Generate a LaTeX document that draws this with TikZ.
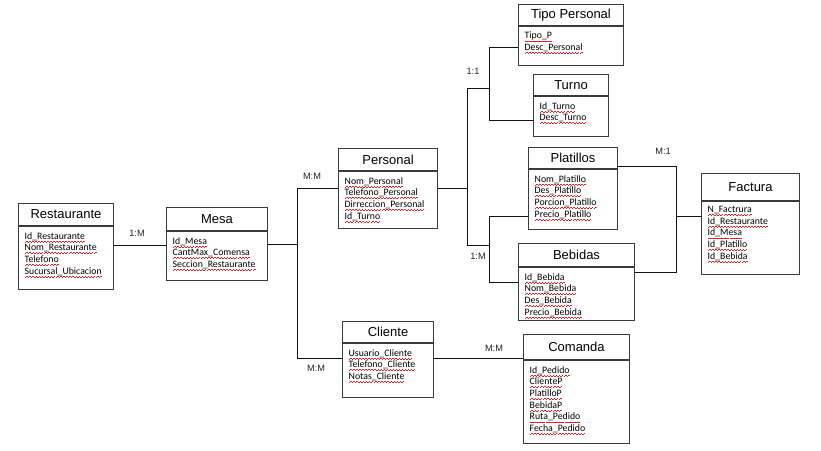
\documentclass[tikz,border=0pt]{standalone}
\usepackage{fontspec}
\setmainfont{Liberation Sans}
\newfontfamily\fieldfont{Carlito}
\usepackage{xcolor}
\definecolor{cEdge}{HTML}{3A3A3A}
\definecolor{cLine}{HTML}{111111}
\definecolor{cCard}{HTML}{222222}
\definecolor{cWave}{HTML}{E02020}
\usetikzlibrary{positioning,calc}
% subrayado ondulado rojo bajo cada campo
\newcommand\fld[1]{\setbox0\hbox{#1}\rlap{\color{cWave}\hbox to\wd0{%
  \xleaders\hbox{\rule[-3.1pt]{1.5pt}{0.6pt}\rule[-2.3pt]{1.5pt}{0.6pt}}\hfill}}\box0}
\tikzset{
  ent-head/.style={draw=cEdge,line width=1pt,anchor=north west,inner sep=0pt,
    font=\fontsize{13}{14}\selectfont},
  ent-body/.style={draw=cEdge,line width=1pt,inner sep=0pt},
  ent-fields/.style={anchor=north west,inner sep=0pt,align=left,
    font=\fieldfont\fontsize{9.8}{11.7}\selectfont},
  link/.style={draw=cLine,line width=0.8pt},
  card/.style={font=\fontsize{9.2}{10}\selectfont,text=cCard,inner sep=0pt},
}

\begin{document}
\begin{tikzpicture}[x=1pt,y=-1pt]
  \useasboundingbox (0,0) rectangle (821,450);
  % entidades
  \node[ent-head,minimum width=95pt,minimum height=22pt] (rest-h) at (18,203) {Restaurante};
  \node[ent-body,minimum width=95pt,minimum height=63pt,below=0pt of rest-h] (rest-b) {};
  \node[ent-fields] (rest-f) at ($(rest-b.north west)+(6.5,6)$)
    {\fld{Id\_Restaurante}\\\fld{Nom\_Restaurante}\\\fld{Telefono}\\\fld{Sucursal\_Ubicacion}};

  \node[ent-head,minimum width=101pt,minimum height=23pt] (mesa-h) at (166,207) {Mesa};
  \node[ent-body,minimum width=101pt,minimum height=49pt,below=0pt of mesa-h] (mesa-b) {};
  \node[ent-fields] (mesa-f) at ($(mesa-b.north west)+(6.5,6)$)
    {\fld{Id\_Mesa}\\\fld{CantMax\_Comensa}\\\fld{Seccion\_Restaurante}};

  \node[ent-head,minimum width=99pt,minimum height=22pt] (pers-h) at (338,148) {Personal};
  \node[ent-body,minimum width=99pt,minimum height=57pt,below=0pt of pers-h] (pers-b) {};
  \node[ent-fields] (pers-f) at ($(pers-b.north west)+(6.5,6)$)
    {\fld{Nom\_Personal}\\\fld{Telefono\_Personal}\\\fld{Dirreccion\_Personal}\\\fld{Id\_Turno}};

  \node[ent-head,minimum width=105pt,minimum height=21pt] (tipo-h) at (518,4) {Tipo Personal};
  \node[ent-body,minimum width=105pt,minimum height=39pt,below=0pt of tipo-h] (tipo-b) {};
  \node[ent-fields] (tipo-f) at ($(tipo-b.north west)+(6.5,6)$)
    {\fld{Tipo\_P}\\\fld{Desc\_Personal}};

  \node[ent-head,minimum width=75pt,minimum height=21pt] (turno-h) at (533,74) {Turno};
  \node[ent-body,minimum width=75pt,minimum height=40pt,below=0pt of turno-h] (turno-b) {};
  \node[ent-fields] (turno-f) at ($(turno-b.north west)+(6.5,6)$)
    {\fld{Id\_Turno}\\\fld{Desc\_Turno}};

  \node[ent-head,minimum width=89pt,minimum height=21pt] (plat-h) at (528,147) {Platillos};
  \node[ent-body,minimum width=89pt,minimum height=60pt,below=0pt of plat-h] (plat-b) {};
  \node[ent-fields] (plat-f) at ($(plat-b.north west)+(6.5,6)$)
    {\fld{Nom\_Platillo}\\\fld{Des\_Platillo}\\\fld{Porcion\_Platillo}\\\fld{Precio\_Platillo}};

  \node[ent-head,minimum width=116pt,minimum height=23pt] (beb-h) at (518,243) {Bebidas};
  \node[ent-body,minimum width=116pt,minimum height=53pt,below=0pt of beb-h] (beb-b) {};
  \node[ent-fields] (beb-f) at ($(beb-b.north west)+(6.5,6)$)
    {\fld{Id\_Bebida}\\\fld{Nom\_Bebida}\\\fld{Des\_Bebida}\\\fld{Precio\_Bebida}};

  \node[ent-head,minimum width=98pt,minimum height=27pt] (fact-h) at (701,173) {Factura};
  \node[ent-body,minimum width=98pt,minimum height=73pt,below=0pt of fact-h] (fact-b) {};
  \node[ent-fields] (fact-f) at ($(fact-b.north west)+(6.5,5)$)
    {\fld{N\_Factrura}\\\fld{Id\_Restaurante}\\\fld{Id\_Mesa}\\\fld{Id\_Platillo}\\\fld{Id\_Bebida}};

  \node[ent-head,minimum width=91pt,minimum height=21pt] (cli-h) at (342,321) {Cliente};
  \node[ent-body,minimum width=91pt,minimum height=54pt,below=0pt of cli-h] (cli-b) {};
  \node[ent-fields] (cli-f) at ($(cli-b.north west)+(6.5,6)$)
    {\fld{Usuario\_Cliente}\\\fld{Telefono\_Cliente}\\\fld{Notas\_Cliente}};

  \node[ent-head,minimum width=106pt,minimum height=25pt] (com-h) at (523,334) {Comanda};
  \node[ent-body,minimum width=106pt,minimum height=83pt,below=0pt of com-h] (com-b) {};
  \node[ent-fields] (com-f) at ($(com-b.north west)+(6.5,6)$)
    {\fld{Id\_Pedido}\\\fld{ClienteP}\\\fld{PlatilloP}\\\fld{BebidaP}\\\fld{Ruta\_Pedido}\\\fld{Fecha\_Pedido}};

  % puntos de union
  \coordinate (rm)   at (140,245);
  \coordinate (mm)   at (297,244);
  \coordinate (mm-a) at (297,188);
  \coordinate (mm-b) at (297,358);
  \coordinate (pj)   at (467,188);
  \coordinate (pj-a) at (467,88);
  \coordinate (pj-b) at (467,245);
  \coordinate (tt)   at (489,88);
  \coordinate (tt-a) at (489,47);
  \coordinate (tt-b) at (489,120);
  \coordinate (pb)   at (489,245);
  \coordinate (pb-a) at (489,216);
  \coordinate (pb-b) at (489,282);
  \coordinate (fa)   at (676,216);
  \coordinate (fa-a) at (676,166);
  \coordinate (fa-b) at (676,272);

  % relaciones
  \draw[link] (rest-b.east |- rm) -- (mesa-b.west |- rm);
  \draw[link] (mesa-b.east |- mm) -- (mm);
  \draw[link] (pers-b.west |- mm-a) -- (mm-a) -- (mm-b) -- (cli-b.west |- mm-b);
  \draw[link] (pers-b.east |- pj) -- (pj);
  \draw[link] (tt) -- (pj-a) -- (pj-b) -- (pb);
  \draw[link] (tipo-b.west |- tt-a) -- (tt-a) -- (tt-b) -- (turno-b.west |- tt-b);
  \draw[link] (plat-b.west |- pb-a) -- (pb-a) -- (pb-b) -- (beb-b.west |- pb-b);
  \draw[link] (plat-h.east |- fa-a) -- (fa-a) -- (fa-b) -- (beb-b.east |- fa-b);
  \draw[link] (fa) -- (fact-b.west |- fa);
  \draw[link] (cli-b.east |- mm-b) -- (com-h.west |- mm-b);

  % cardinalidades
  \node[card] (c-rm)  at (137,233) {1:M};
  \node[card] (c-mp)  at (312,176) {M:M};
  \node[card] (c-mc)  at (316,368) {M:M};
  \node[card] (c-pt)  at (473,71)  {1:1};
  \node[card] (c-pb)  at (478,256) {1:M};
  \node[card] (c-fa)  at (663,151) {M:1};
  \node[card] (c-cc)  at (494,348) {M:M};
\end{tikzpicture}
\end{document}
